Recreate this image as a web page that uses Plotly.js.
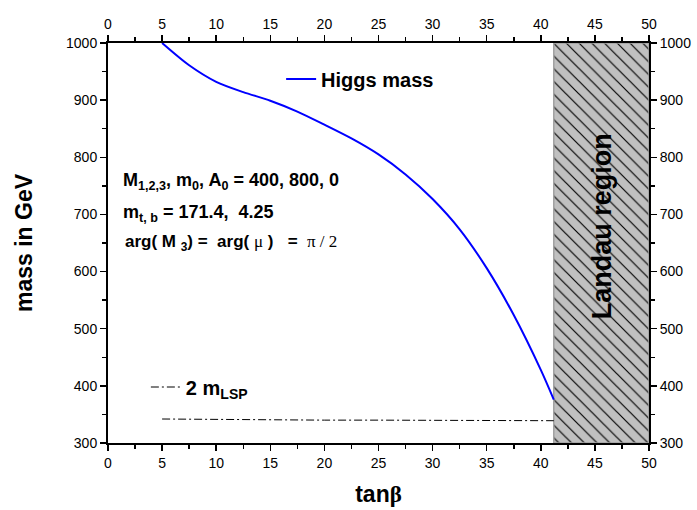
<!DOCTYPE html>
<html><head><meta charset="utf-8">
<script src="https://cdn.plot.ly/plotly-3.0.1.min.js"></script>
<style>html,body{margin:0;padding:0;background:#fff}</style>
</head><body><div id="chart" style="width:697px;height:510px"></div>
<script>
// Higgs mass vs tan(beta)
const tanBeta   = [5, 7.5, 10, 12.5, 15, 17.5, 20, 22.5, 25, 27.5, 30, 32.5, 35, 37.5, 40, 41.2];
const higgsMass = [1000, 961, 932, 914, 899, 880, 857, 833, 805, 770, 727, 674, 606, 524, 428, 376];
// 2 m_LSP
const lspTanBeta = [5, 10, 15, 20, 25, 30, 35, 41.2];
const twoMLSP    = [342, 341, 340, 340, 340, 340, 340, 339];
// Landau region bounds
const landauX   = [41.2, 50];
const massRange = [300, 1000];
const xRange    = [0, 50];

const F = 'Arial, "Liberation Sans", sans-serif';
const SERIF = "'Liberation Serif', 'DejaVu Serif', serif";

const traces = [
  {
    x: [landauX[0], landauX[1], landauX[1], landauX[0], landauX[0]],
    y: [massRange[0], massRange[0], massRange[1], massRange[1], massRange[0]],
    mode: 'lines', fill: 'toself', fillcolor: '#c0c0c0',
    fillpattern: {shape: '\\', fgcolor: '#000000', bgcolor: '#c0c0c0', size: 9, solidity: 0.13},
    line: {color: '#a0a0a0', width: 1.5},
    showlegend: false, hoverinfo: 'skip'
  },
  {
    x: tanBeta, y: higgsMass, mode: 'lines', name: 'Higgs mass',
    line: {color: '#0000ff', width: 2, shape: 'spline', smoothing: 0.8}, legend: 'legend'
  },
  {
    x: lspTanBeta, y: twoMLSP, mode: 'lines', name: '2 m<sub>LSP</sub>',
    line: {color: '#000000', width: 1, dash: '8px,3px,2px,3px'}, legend: 'legend2'
  },
  { x: [], y: [], xaxis: 'x2', yaxis: 'y2', showlegend: false, hoverinfo: 'skip' }
];

const minorX = {ticks: 'outside', ticklen: 4, tickwidth: 1.5, tickcolor: '#000', dtick: 2.5};
const minorY = {ticks: 'outside', ticklen: 4, tickwidth: 1.5, tickcolor: '#000', dtick: 50};

const axisCommon = {
  showgrid: false, zeroline: false, showline: true, linecolor: '#000', linewidth: 2,
  ticks: 'outside', ticklen: 6, tickwidth: 1.5, tickcolor: '#000',
  tickfont: {family: F, size: 14, color: '#000'}
};

const layout = {
  width: 697, height: 510,
  margin: {l: 108, r: 48, t: 43, b: 67},
  paper_bgcolor: '#fff', plot_bgcolor: '#fff',
  xaxis: Object.assign({}, axisCommon, {
    range: xRange, dtick: 5, tick0: 0, minor: minorX,
    title: {text: 'tan<span style="font-family:' + SERIF + '">β</span>',
            font: {family: F, size: 23, color: '#000', weight: 'bold'}, standoff: 16}
  }),
  yaxis: Object.assign({}, axisCommon, {
    range: massRange, dtick: 100, tick0: 300, minor: minorY,
    title: {text: 'mass in GeV', font: {family: F, size: 23, color: '#000', weight: 'bold'}, standoff: 27}
  }),
  xaxis2: Object.assign({}, axisCommon, {
    range: xRange, dtick: 5, tick0: 0, overlaying: 'x', side: 'top', matches: 'x', minor: minorX
  }),
  yaxis2: Object.assign({}, axisCommon, {
    range: massRange, dtick: 100, tick0: 300, overlaying: 'y', side: 'right', matches: 'y', minor: minorY
  }),
  legend: {
    x: 0.32, y: 0.91, xanchor: 'left', yanchor: 'middle', bgcolor: 'rgba(0,0,0,0)',
    font: {family: F, size: 20, color: '#000', weight: 'bold'}
  },
  legend2: {
    x: 0.07, y: 0.14, xanchor: 'left', yanchor: 'middle', bgcolor: 'rgba(0,0,0,0)',
    font: {family: F, size: 20, color: '#000', weight: 'bold'}
  },
  annotations: [
    {xref: 'x', yref: 'y', x: 1.2, y: 758, xanchor: 'left', yanchor: 'middle', showarrow: false,
     text: 'M<sub>1,2,3</sub>, m<sub>0</sub>, A<sub>0</sub> = 400, 800, 0',
     font: {family: F, size: 18, color: '#000', weight: 'bold'}},
    {xref: 'x', yref: 'y', x: 1.2, y: 701, xanchor: 'left', yanchor: 'middle', showarrow: false,
     text: 'm<sub>t, b</sub> = 171.4,\u00a0 4.25',
     font: {family: F, size: 18, color: '#000', weight: 'bold'}},
    {xref: 'x', yref: 'y', x: 1.35, y: 650, xanchor: 'left', yanchor: 'middle', showarrow: false,
     text: 'arg( M <sub>3</sub>) =\u00a0 arg( <span style="font-weight:normal;font-family:' + SERIF + '">μ</span> )\u00a0\u00a0 =\u00a0 <span style="font-weight:normal;font-family:' + SERIF + '">π / 2</span>',
     font: {family: F, size: 17, color: '#000', weight: 'bold'}},
    {xref: 'x', yref: 'y', x: 45.6, y: 680, xanchor: 'center', yanchor: 'middle', showarrow: false,
     textangle: -90, text: 'Landau region',
     font: {family: F, size: 27, color: '#000', weight: 'bold'}}
  ],
  showlegend: true
};

Plotly.newPlot('chart', traces, layout, {displayModeBar: false, staticPlot: true});
</script></body></html>
